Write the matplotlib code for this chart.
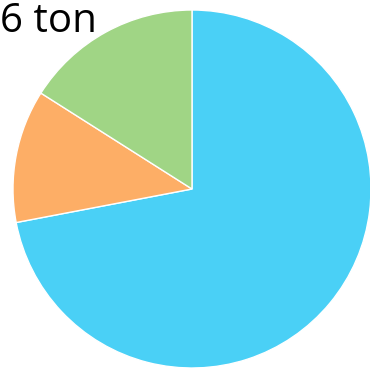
import matplotlib.pyplot as plt

labels = ["A", "B", "C"]
values = [72, 12, 16]
colors = ["#4ad0f6", "#fdae66", "#a0d585"]
title_text = "6 ton"

fig = plt.figure(figsize=(3.70, 3.68), dpi=100)
ax = fig.add_axes([13 / 370, 0 / 368, 358 / 370, 358 / 368])
ax.pie(values, colors=colors, startangle=90, counterclock=False, radius=1,
       wedgeprops=dict(edgecolor="white", linewidth=1))
ax.set_xlim(-1, 1)
ax.set_ylim(-1, 1)
ax.set_aspect("equal")
ax.axis("off")

fig.text(0.0, 0.995, title_text, ha="left", va="top", fontsize=29,
         family="Open Sans", color="black")

fig.savefig("out.png", dpi=100)
